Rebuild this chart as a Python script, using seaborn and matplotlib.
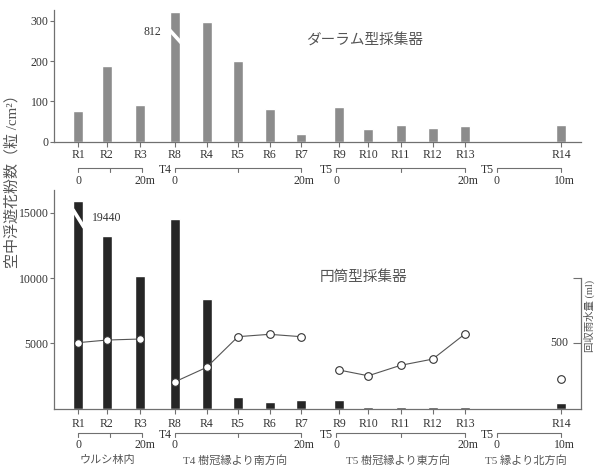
import pandas as pd
import matplotlib.pyplot as plt
from matplotlib.path import Path
from matplotlib.transforms import blended_transform_factory
import seaborn as sns

# Stations in the order they are drawn, with distance (m) along their transect
stations = ['R1', 'R2', 'R3', 'R8', 'R4', 'R5', 'R6', 'R7',
            'R9', 'R10', 'R11', 'R12', 'R13', 'R14']
transect = ['U'] * 3 + ['T4'] * 5 + ['T5E'] * 5 + ['T5N']
dist_m = [0, 9, 19.5, 0, 5, 10, 15, 20, 0.5, 5, 10, 15, 20, 10]

# Durham sampler pollen counts (grains/cm2), cylinder sampler counts, rainwater (ml)
durham = [77, 189, 90, 812, 297, 200, 80, 18, 87, 32, 42, 35, 40, 42]
cylinder = [19440, 13200, 10180, 14540, 8400, 850, 520, 650, 650, 120, 80, 120, 130, 430]
rain_ml = [505, 525, 533, 205, 315, 551, 569, 551, 295, 251, 331, 379, 572, 228]

transect_ids = ['U', 'T4', 'T5E', 'T5N']
transect_len = [20, 20, 20, 10]
transect_tag = ['', 'T4', 'T5', 'T5']
transect_names = ['ウルシ林内', 'T4 樹冠縁より南方向', 'T5 樹冠縁より東方向', 'T5 縁より北方向']

# layout: x axis is in pixel-like units; each transect has its own start and px per metre
W, H = 601, 470
t_start = {'U': 78, 'T4': 175, 'T5E': 336, 'T5N': 497}
t_scale = {'U': 3.2, 'T4': 6.3, 'T5E': 6.45, 'T5N': 6.4}
top_cap, bot_cap = 321, 15900      # where the broken bars get cut off

df = pd.DataFrame({'station': stations, 'transect': transect, 'dist': dist_m,
                   'durham': durham, 'cylinder': cylinder, 'rain': rain_ml})
df['x'] = [t_start[t] + d * t_scale[t] for t, d in zip(df.transect, df.dist)]
df['durham_shown'] = df.durham.clip(upper=top_cap)
df['cyl_shown'] = df.cylinder.clip(upper=bot_cap)

sns.set_style('ticks')
plt.rcParams['font.family'] = ['Liberation Serif', 'Noto Sans CJK JP']
plt.rcParams['axes.edgecolor'] = '#707070'
plt.rcParams['xtick.color'] = '#707070'
plt.rcParams['ytick.color'] = '#707070'
plt.rcParams['xtick.labelcolor'] = '#333333'
plt.rcParams['ytick.labelcolor'] = '#333333'
plt.rcParams['axes.linewidth'] = 0.9

fig = plt.figure(figsize=(W / 100, H / 100), dpi=100)
ax_top = fig.add_axes([54 / W, 1 - 141.7 / H, 527 / W, 131.7 / H])
ax_bot = fig.add_axes([54 / W, 1 - 408.5 / H, 527 / W, 218.5 / H])

xs = sorted(df.x)
native = min(b - a for a, b in zip(xs, xs[1:]))
bar_w = 10 / native

sns.barplot(data=df, x='x', y='durham_shown', native_scale=True, width=bar_w,
            color='#8c8c8c', saturation=1, errorbar=None, ax=ax_top)
sns.barplot(data=df, x='x', y='cyl_shown', native_scale=True, width=bar_w,
            color='#262626', saturation=1, errorbar=None, ax=ax_bot)

for ax in (ax_top, ax_bot):
    ax.set_xlim(54, 581)
    ax.set_xticks(df.x, df.station)
    ax.set_xlabel('')
    ax.set_ylabel('')
    ax.tick_params(axis='x', length=3.6, width=0.8, labelsize=8.5)
    ax.tick_params(axis='y', length=3, width=0.8, labelsize=8.5, pad=1)
    sns.despine(ax=ax)

ax_top.set_ylim(0, 327)
ax_top.set_yticks([0, 100, 200, 300])
ax_top.tick_params(axis='x', pad=2)
ax_bot.set_ylim(0, 16760)
ax_bot.set_yticks([5000, 10000, 15000])
ax_bot.tick_params(axis='x', pad=3)

# break marks on the two cut bars
slash_top = Path([(-1, 1.1), (1, -1.1)], [Path.MOVETO, Path.LINETO])
slash_bot = Path([(-0.62, 1), (0.62, -1)], [Path.MOVETO, Path.LINETO])
r8 = df[df.station == 'R8'].iloc[0]
r1 = df[df.station == 'R1'].iloc[0]
ax_top.plot(r8.x, 263, marker=slash_top, markersize=11, mew=2.6, color='white')
ax_top.text(r8.x - 14, 273, f'{r8.durham}', ha='right', va='center', fontsize=8.5, color='#333333')
ax_bot.plot(r1.x, 14650, marker=slash_bot, markersize=13, mew=2.6, color='white')
ax_bot.text(r1.x + 14, 14610, f'{r1.cylinder}', ha='left', va='center', fontsize=8.5, color='#333333')

# rainwater on a second axis
ax_rain = ax_bot.twinx()
sns.lineplot(data=df, x='x', y='rain', units='transect', estimator=None, sort=False,
             color='#555555', linewidth=0.8, marker='o', markersize=5.5,
             markerfacecolor='white', markeredgecolor='#333333', markeredgewidth=0.8,
             legend=False, ax=ax_rain)
ax_rain.set_xlim(54, 581)
ax_rain.set_ylim(0, 1676)
ax_rain.set_ylabel('')
ax_rain.set_xlabel('')
for s in ('top', 'left', 'bottom'):
    ax_rain.spines[s].set_visible(False)
ax_rain.spines['right'].set_bounds(0, 1000)
ax_rain.set_yticks([500, 1000], ['', ''])
ax_rain.tick_params(axis='y', direction='in', length=6, width=0.8)
ax_rain.text(568, 500, '500', ha='right', va='center', fontsize=8.5, color='#333333')


def scale_bars(ax, ypx, lab_dy, names):
    tr = blended_transform_factory(ax.transData, fig.transFigure)
    y = 1 - ypx / H
    tk = 4 / H
    kw = dict(transform=tr, clip_on=False)
    for tid, L, tag, name in zip(transect_ids, transect_len, transect_tag, transect_names):
        x0 = t_start[tid]
        x1 = x0 + L * t_scale[tid]
        ax.plot([x0, x0, x1, x1], [y - tk, y, y, y - tk], color='#707070', lw=0.8, **kw)
        if L == 20:
            xm = (x0 + x1) / 2
            ax.plot([xm, xm], [y, y - tk], color='#707070', lw=0.8, **kw)
        ax.text(x0, y - lab_dy / H, '0', ha='center', va='center', fontsize=8.5, color='#333333', **kw)
        ax.text(x1 + 3, y - lab_dy / H, f'{L}m', ha='center', va='center', fontsize=8.5, color='#333333', **kw)
        if tag:
            ax.text(x0 - 3, y - 2 / H, tag, ha='right', va='center', fontsize=8.5, color='#333333', **kw)
        if names:
            ax.text((x0 + x1) / 2 - 3, y - 27 / H, name, ha='center', va='center',
                    fontsize=8, color='#555555', **kw)


scale_bars(ax_top, 168, 13, False)
scale_bars(ax_bot, 433, 11.5, True)

fig.text(365 / W, 1 - 41 / H, 'ダーラム型採集器', ha='center', va='center', fontsize=10.5, color='#555555')
fig.text(364 / W, 1 - 277 / H, '円筒型採集器', ha='center', va='center', fontsize=10.5, color='#555555')
fig.text(12 / W, 1 - 178 / H, '空中浮遊花粉数（粒 /cm²）', rotation=90, ha='center', va='center',
         fontsize=10.8, color='#555555')
fig.text(589 / W, 1 - 316 / H, '回収雨水量 (ml)', rotation=90, ha='center', va='center',
         fontsize=7.5, color='#555555')

fig.savefig('out.png', dpi=100)
